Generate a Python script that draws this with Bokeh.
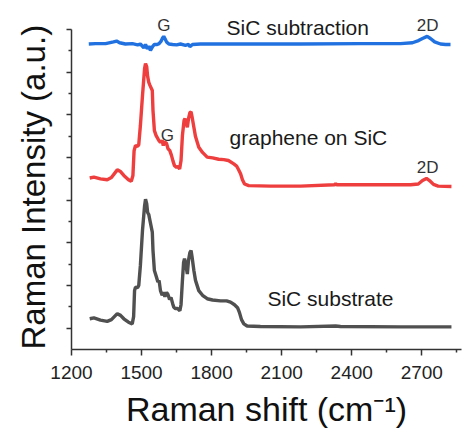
from bokeh.plotting import figure
from bokeh.models import Range1d, FixedTicker, ColumnDataSource, Title
from bokeh.core.properties import value
from bokeh.embed import file_html
from bokeh.resources import INLINE

FONT = "Liberation Sans"

# Raman spectrum of the bare SiC substrate (offset trace at the bottom)
sub_shift = [1278, 1296, 1324, 1353, 1371, 1396, 1410, 1424, 1444, 1460, 1466, 1470,
             1474, 1483, 1488, 1495, 1504, 1513, 1517, 1522, 1526, 1531, 1536, 1546,
             1549, 1555, 1562, 1570, 1575, 1581, 1588, 1594, 1600, 1607, 1613, 1620,
             1626, 1633, 1638, 1645, 1654, 1664, 1669, 1675, 1680, 1684, 1688, 1696,
             1701, 1707, 1712, 1716, 1724, 1731, 1745, 1761, 1781, 1804, 1838, 1864,
             1881, 1898, 1911, 1919, 1928, 1938, 1952, 2009, 2181, 2331, 2352, 2609, 2827]
sub_int = [0.72, 0.74, 0.69, 0.66, 0.70, 0.84, 0.80, 0.72, 0.64, 0.60, 0.77, 1.38,
           1.46, 1.45, 1.50, 1.97, 2.79, 3.37, 3.52, 3.42, 3.21, 3.16, 3.02, 2.75,
           2.32, 1.85, 1.73, 1.58, 1.62, 1.38, 1.27, 1.34, 1.24, 1.34, 1.29, 1.17,
           1.22, 1.08, 0.99, 0.96, 0.96, 0.91, 1.05, 1.62, 2.04, 2.13, 2.04, 1.77,
           2.09, 2.27, 2.32, 2.18, 1.85, 1.62, 1.38, 1.27, 1.19, 1.16, 1.14, 1.14,
           1.11, 1.05, 0.98, 0.87, 0.70, 0.60, 0.55, 0.54, 0.53, 0.55, 0.54, 0.53, 0.53]

# Raman spectrum of graphene grown on SiC (middle trace)
gr_shift = [1278, 1296, 1324, 1353, 1371, 1396, 1410, 1424, 1444, 1456, 1463, 1468,
            1474, 1483, 1488, 1495, 1504, 1513, 1517, 1522, 1526, 1531, 1536, 1546,
            1549, 1555, 1562, 1574, 1581, 1588, 1593, 1598, 1607, 1613, 1621, 1628,
            1635, 1641, 1650, 1656, 1663, 1669, 1675, 1682, 1686, 1690, 1696, 1701,
            1707, 1712, 1716, 1724, 1731, 1745, 1761, 1781, 1804, 1830, 1852, 1872,
            1895, 1907, 1915, 1924, 1932, 1941, 1959, 2052, 2181, 2326, 2331, 2335,
            2523, 2652, 2685, 2703, 2720, 2733, 2750, 2770, 2827]
gr_int = [4.02, 4.04, 4.00, 3.98, 4.03, 4.21, 4.17, 4.08, 3.98, 3.94, 4.08, 4.66,
          4.78, 4.76, 4.80, 5.25, 5.95, 6.59, 6.70, 6.63, 6.40, 6.26, 6.19, 6.07,
          5.60, 5.13, 5.02, 4.90, 4.85, 4.90, 4.78, 4.87, 4.83, 4.71, 4.66, 4.55,
          4.41, 4.31, 4.27, 4.29, 4.23, 4.43, 5.02, 5.37, 5.41, 5.32, 5.21, 5.41,
          5.55, 5.57, 5.46, 5.21, 4.99, 4.74, 4.62, 4.51, 4.49, 4.46, 4.45, 4.43,
          4.35, 4.30, 4.22, 4.12, 3.98, 3.88, 3.84, 3.83, 3.83, 3.86, 3.89, 3.86,
          3.86, 3.86, 3.88, 3.96, 4.01, 3.96, 3.87, 3.83, 3.82]

# Difference spectrum: graphene on SiC minus the SiC substrate (top trace)
diff_shift = [1274, 1303, 1346, 1380, 1393, 1406, 1431, 1461, 1483, 1495, 1510, 1517,
              1525, 1532, 1538, 1547, 1555, 1567, 1575, 1583, 1590, 1595, 1600, 1607,
              1617, 1633, 1650, 1667, 1688, 1701, 1707, 1718, 1752, 1838, 2009, 2181,
              2438, 2609, 2660, 2686, 2703, 2723, 2737, 2755, 2780, 2802, 2823]
diff_int = [7.16, 7.17, 7.17, 7.21, 7.23, 7.19, 7.16, 7.17, 7.14, 7.16, 7.07, 7.15,
            7.05, 7.11, 7.01, 7.10, 7.15, 7.15, 7.17, 7.22, 7.30, 7.34, 7.29, 7.21,
            7.16, 7.15, 7.14, 7.16, 7.13, 7.15, 7.10, 7.15, 7.16, 7.16, 7.16, 7.16,
            7.17, 7.17, 7.19, 7.24, 7.29, 7.34, 7.29, 7.21, 7.16, 7.15, 7.15]

# Peak and trace annotations
note_text = ["G", "2D", "G", "2D"]
note_x = [1596, 2725, 1610, 2725]
note_y = [7.59, 7.59, 5.02, 4.27]
caption_text = ["SiC subtraction", "graphene on SiC", "SiC substrate"]
caption_x = [1864, 1877, 2039]
caption_y = [7.55, 4.97, 1.19]

x_major = [1200, 1500, 1800, 2100, 2400, 2700]
x_minor = [1350, 1650, 1950, 2250, 2550, 2850]
y_major = [0.5, 1.5, 2.5, 3.5, 4.5, 5.5, 6.5, 7.5]
y_minor = [1, 2, 3, 4, 5, 6, 7]

p = figure(width=462, height=431, output_backend="svg", toolbar_location=None,
           x_range=Range1d(1200, 2870), y_range=Range1d(0, 8.18),
           min_border_left=71, min_border_right=1, min_border_top=0,
           min_border_bottom=82)
p.outline_line_color = None
p.xgrid.visible = False
p.ygrid.visible = False
p.background_fill_color = "white"
p.border_fill_color = "white"

p.line(sub_shift, sub_int, line_color="#505050", line_width=3.4)
p.line(gr_shift, gr_int, line_color="#ee3e3e", line_width=3.4)
p.line(diff_shift, diff_int, line_color="#2172e0", line_width=3.4)

notes = ColumnDataSource(dict(x=note_x, y=note_y, t=note_text))
p.text(x="x", y="y", text="t", source=notes, text_font=value(FONT),
       text_font_size="17px", text_color="#333333", text_align="center",
       text_baseline="alphabetic")
caps = ColumnDataSource(dict(x=caption_x, y=caption_y, t=caption_text))
p.text(x="x", y="y", text="t", source=caps, text_font=value(FONT),
       text_font_size="21px", text_color="#1a1a1a", text_align="left",
       text_baseline="alphabetic")

xa = p.xaxis[0]
xa.ticker = FixedTicker(ticks=x_major, minor_ticks=x_minor)
xa.axis_label = "Raman shift (cm\u207b\u00b9)"
xa.axis_label_text_font = FONT
xa.axis_label_text_font_style = "normal"
xa.axis_label_text_font_size = "34px"
xa.axis_label_text_color = "#111111"
xa.axis_label_standoff = 8
xa.major_label_text_font = FONT
xa.major_label_text_font_size = "19px"
xa.major_label_text_color = "#222222"
xa.major_label_standoff = 10
xa.major_tick_out = 6
xa.major_tick_in = 0
xa.minor_tick_out = 3
xa.minor_tick_in = 0
xa.axis_line_width = 1.5
xa.axis_line_color = "#333333"
xa.major_tick_line_width = 1.5
xa.major_tick_line_color = "#333333"
xa.minor_tick_line_width = 1.5
xa.minor_tick_line_color = "#333333"

ya = p.yaxis[0]
ya.ticker = FixedTicker(ticks=y_major, minor_ticks=y_minor)
ya.bounds = (0, 7.5)
# intensity axis carries ticks only, no numbers
ya.major_label_overrides = {t: "" for t in y_major}
ya.major_label_standoff = 0
ya.major_tick_out = 5
ya.major_tick_in = 0
ya.minor_tick_out = 3
ya.minor_tick_in = 0
ya.axis_line_width = 1.5
ya.axis_line_color = "#333333"
ya.major_tick_line_width = 1.5
ya.major_tick_line_color = "#333333"
ya.minor_tick_line_width = 1.5
ya.minor_tick_line_color = "#333333"

# vertical title beside the intensity axis, started from the bottom of the axis
p.add_layout(Title(text="Raman Intensity (a.u.)", align="left", vertical_align="top",
                   offset=0, standoff=26,
                   text_font=FONT, text_font_size="33px", text_font_style="normal",
                   text_color="#111111"), "left")

open("out.html", "w").write(file_html(p, INLINE))
